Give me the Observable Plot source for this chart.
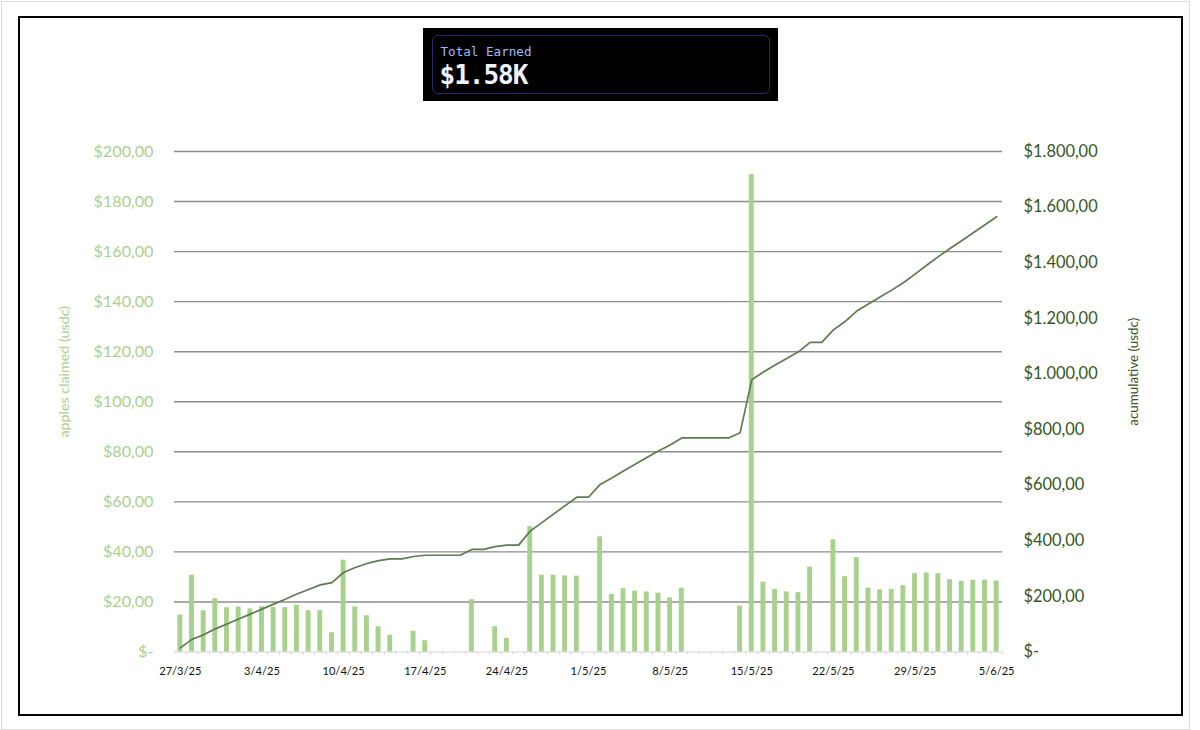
<!DOCTYPE html>
<html>
<head>
<meta charset="utf-8">
<script src="https://cdn.jsdelivr.net/npm/d3@7"></script>
<script src="https://cdn.jsdelivr.net/npm/@observablehq/plot@0.6"></script>
<style>
html,body{margin:0;padding:0;background:#fff;width:1200px;height:730px;overflow:hidden}
#outer{position:absolute;left:1px;top:1px;width:1187px;height:727px;border:1.5px solid #dcdcdc;box-sizing:content-box}
#frame{position:absolute;left:18px;top:15.5px;width:1161px;height:696px;border:2px solid #000;box-sizing:content-box}
#chart{position:absolute;left:0;top:0}
#badge{position:absolute;left:423px;top:28px;width:355px;height:73px;background:#000}
#inner{position:absolute;left:9px;top:7px;width:336px;height:57px;border:1px solid #222e6b;border-radius:6px}
#t1{position:absolute;left:7.5px;top:9px;color:#9db9fa;font:12.6px/14px "DejaVu Sans Mono",monospace}
#t2{position:absolute;left:6.5px;top:24px;color:#eef3ff;font:bold 26px/30px "DejaVu Sans Mono",monospace;letter-spacing:-1px}
</style>
</head>
<body>
<div id="outer"></div>
<div id="frame"></div>
<div id="chart"></div>
<div id="badge"><div id="inner"><div id="t1">Total Earned</div><div id="t2">$1.58K</div></div></div>
<script>
const days = ["27/3/25","28/3/25","29/3/25","30/3/25","31/3/25","1/4/25","2/4/25","3/4/25","4/4/25","5/4/25","6/4/25","7/4/25","8/4/25","9/4/25","10/4/25","11/4/25","12/4/25","13/4/25","14/4/25","15/4/25","16/4/25","17/4/25","18/4/25","19/4/25","20/4/25","21/4/25","22/4/25","23/4/25","24/4/25","25/4/25","26/4/25","27/4/25","28/4/25","29/4/25","30/4/25","1/5/25","2/5/25","3/5/25","4/5/25","5/5/25","6/5/25","7/5/25","8/5/25","9/5/25","10/5/25","11/5/25","12/5/25","13/5/25","14/5/25","15/5/25","16/5/25","17/5/25","18/5/25","19/5/25","20/5/25","21/5/25","22/5/25","23/5/25","24/5/25","25/5/25","26/5/25","27/5/25","28/5/25","29/5/25","30/5/25","31/5/25","1/6/25","2/6/25","3/6/25","4/6/25","5/6/25"];
const claimed = [14.7,30.7,16.5,21.3,17.7,18,17.2,18.1,17.9,17.7,18.7,16.5,16.5,7.7,36.7,18,14.5,10.1,6.7,0,8.3,4.5,0,0,0,20.9,0,10.1,5.5,0,50.1,30.7,30.7,30.4,30.3,0,46,23,25.3,24.3,24,23.5,21.6,25.5,0,0,0,0,18.3,190.8,27.9,25,24,23.7,33.9,0,44.8,30.1,37.7,25.5,24.8,25,26.5,31.3,31.6,31.3,28.9,28.3,28.7,28.7,28.4];
const cumulative = [14.7,45.4,61.9,83.2,100.9,118.9,136.1,154.2,172.1,189.8,208.5,225,241.5,249.2,285.9,303.9,318.4,328.5,335.2,335.2,343.5,348,348,348,348,368.9,368.9,379,384.5,384.5,434.6,465.3,496,526.4,556.7,556.7,602.7,625.7,651,675.3,699.3,722.8,744.4,769.9,769.9,769.9,769.9,769.9,788.2,979,1006.9,1031.9,1055.9,1079.6,1113.5,1113.5,1158.3,1188.4,1226.1,1251.6,1276.4,1301.4,1327.9,1359.2,1390.8,1422.1,1451,1479.3,1508,1536.7,1565.1];
const xTickLabels = ["27/3/25","3/4/25","10/4/25","17/4/25","24/4/25","1/5/25","8/5/25","15/5/25","22/5/25","29/5/25","5/6/25"];
const leftTicks = [0,20,40,60,80,100,120,140,160,180,200];
const rightTicks = [0,200,400,600,800,1000,1200,1400,1600,1800];
const axisRatio = 1800 / 200;

const table = days.map((d, i) => ({day: d, claimed: claimed[i], cumulative: cumulative[i]}));
const money = v => v === 0 ? "$-" : "$" + d3.format(",.0f")(v).replace(/,/g, ".") + ",00";

const LIGHT = "#a9d18e", DARK = "#375623", LINE = "#5c7c4f", FONT = "Lato, 'Open Sans', sans-serif";
const bandW = 828 / days.length;

const chart = Plot.plot({
  width: 1200, height: 730,
  marginLeft: 174, marginRight: 198, marginTop: 151, marginBottom: 78.5,
  style: {fontFamily: FONT, background: "transparent", overflow: "visible"},
  x: {type: "band", domain: days, paddingInner: 0.58, paddingOuter: 0.29, align: 0.5, label: null},
  y: {domain: [0, 200], label: null},
  marks: [
    Plot.ruleY(leftTicks.filter(v => v > 0), {stroke: "#8c8c8c", strokeWidth: 1.4}),
    Plot.ruleY([0], {stroke: "#d4d4d4", strokeWidth: 1}),
    Plot.axisX({ticks: days, text: null, tickSize: 3, stroke: "#d4d4d4", dx: -bandW / 2, label: null}),
    Plot.axisX({ticks: days.slice(-1), text: null, tickSize: 3, stroke: "#d4d4d4", dx: bandW / 2, label: null}),
    Plot.axisX({ticks: xTickLabels, tickSize: 0, tickPadding: 15, fontSize: 11.1, color: "#111", label: null}),
    Plot.axisY({ticks: leftTicks, tickSize: 0, tickPadding: 21, fontSize: 16.2, color: LIGHT,
      tickFormat: money, label: null}),
    Plot.axisY({anchor: "right", ticks: rightTicks.map(v => v / axisRatio), tickSize: 0, tickPadding: 21,
      fontSize: 16.4, color: DARK, tickFormat: v => money(Math.round(v * axisRatio)), label: null}),
    Plot.barY(table, {x: "day", y: "claimed", fill: LIGHT}),
    Plot.lineY(table, {x: "day", y: d => d.cumulative / axisRatio, stroke: LINE, strokeWidth: 1.7, curve: "linear"}),
    Plot.text(["apples claimed (usdc)"], {frameAnchor: "left", textAnchor: "middle", dx: -110, dy: -30, rotate: -90, fontSize: 14.3, fill: LIGHT}),
    Plot.text(["acumulative (usdc)"], {frameAnchor: "right", textAnchor: "middle", dx: 131, dy: -30, rotate: -90, fontSize: 13.4, fill: DARK})
  ]
});
document.getElementById("chart").appendChild(chart);
</script>
</body>
</html>
